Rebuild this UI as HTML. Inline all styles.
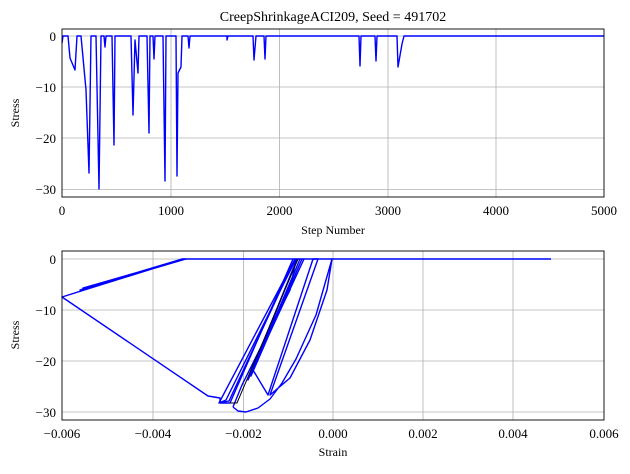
<!DOCTYPE html><html><head><style>body{margin:0;background:#fff}svg{font-family:"Liberation Serif",serif}</style></head><body>
<svg width="630" height="469" viewBox="0 0 630 469" xmlns="http://www.w3.org/2000/svg">
<text x="333" y="21" font-size="14" text-anchor="middle">CreepShrinkageACI209, Seed = 491702</text>
<g stroke="#b0b0b0" stroke-width="0.8">
<line x1="62" y1="36" x2="604" y2="36"/><line x1="62" y1="87" x2="604" y2="87"/><line x1="62" y1="138" x2="604" y2="138"/><line x1="62" y1="189.5" x2="604" y2="189.5"/>
<line x1="171" y1="29" x2="171" y2="197"/><line x1="279.5" y1="29" x2="279.5" y2="197"/><line x1="388" y1="29" x2="388" y2="197"/><line x1="496" y1="29" x2="496" y2="197"/>
<line x1="62" y1="259" x2="604" y2="259"/><line x1="62" y1="310" x2="604" y2="310"/><line x1="62" y1="361" x2="604" y2="361"/><line x1="62" y1="412" x2="604" y2="412"/>
<line x1="153" y1="251" x2="153" y2="420"/><line x1="243.5" y1="251" x2="243.5" y2="420"/><line x1="333" y1="251" x2="333" y2="420"/><line x1="423" y1="251" x2="423" y2="420"/><line x1="513" y1="251" x2="513" y2="420"/>
</g>
<g fill="none" stroke="#0000ff" stroke-width="1.4" stroke-linejoin="round">
<polyline points="62,43 63,36 68,36 70,58 75,70 77,36 81,36 86,90 89,173 91,36 96,36 99,189 101,36 104,36 105,47 106,36 112,36 114,145 115,36 131,36 133,115 135,40 138,73 139,36 147,36 149,133 150,36 153,36 154,59 155,36 163,36 165,181 166,36 176,36 177,176 178,73 181,67 182,36 188,36 189,48 190,36 227,36 227,40 228,36 253,36 254,60 256,36 264,36 265,59 266,36 359,36 360,66 361,36 375,36 376,61 377,36 397,36 398,67 402,44 404,36 604,36"/>
<polyline points="182,259 551,259"/>
<polyline points="82,289 182,259 80,290 186,259 83,288 184,259 62,297 182,259"/>
<polyline points="62,297 208,396 220,398 220,403 230,403 293,259"/>
<polyline points="219,403 229,401 295,259 219,403 226,400 296,259"/>
<polyline points="233,407 238,411 246,412 258,408 270,399 282,383 296,359 316,315 332,259 327,290 310,340 290,378 270,395 318,259 313,259 268,395 253,370 300,259 251,376 302,259 255,365 304,259 248,380 297,259 252,372"/>
<polyline points="233,407 242,385 262,345 290,290 296,259"/>
</g>
<polyline points="230,403 237,403 298,259" fill="none" stroke="#000" stroke-width="1"/>
<g fill="none" stroke="#000" stroke-width="0.9"><rect x="62" y="29" width="542" height="168"/><rect x="62" y="251" width="542" height="169"/></g>
<g font-size="13" text-anchor="end">
<text x="56" y="41">0</text><text x="56" y="92">−10</text><text x="56" y="143">−20</text><text x="56" y="194">−30</text>
<text x="56" y="264">0</text><text x="56" y="315">−10</text><text x="56" y="366">−20</text><text x="56" y="417">−30</text>
</g>
<g font-size="13" text-anchor="middle">
<text x="62" y="215">0</text><text x="171" y="215">1000</text><text x="279.5" y="215">2000</text><text x="388" y="215">3000</text><text x="496" y="215">4000</text><text x="604" y="215">5000</text>
<text x="62" y="438">−0.006</text><text x="153" y="438">−0.004</text><text x="243.5" y="438">−0.002</text><text x="333" y="438">0.000</text><text x="423" y="438">0.002</text><text x="513" y="438">0.004</text><text x="604" y="438">0.006</text>
<text x="333" y="234" font-size="12">Step Number</text><text x="333" y="456" font-size="12">Strain</text>
<text transform="translate(19,113) rotate(-90)" font-size="12">Stress</text>
<text transform="translate(19,335) rotate(-90)" font-size="12">Stress</text>
</g>
</svg></body></html>
